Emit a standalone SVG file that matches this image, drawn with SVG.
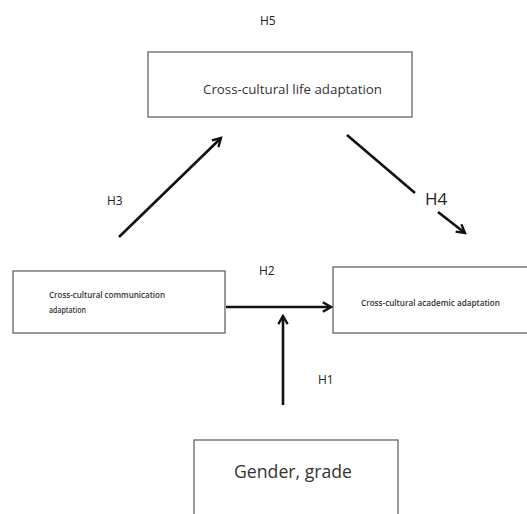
<svg xmlns="http://www.w3.org/2000/svg" width="527" height="514" viewBox="0 0 527 514">
<style>
.box{fill:#fff;stroke:#666;stroke-width:1.3}
.lbl{font-family:"Open Sans","Liberation Sans",sans-serif;fill:#333}
.h{font-family:"Open Sans","Liberation Sans",sans-serif;fill:#222;font-size:12px}
.big{font-size:17px}
.c{stroke:#111;stroke-width:2.6;fill:none;marker-end:url(#a)}
</style>
<defs>
<marker id="a" viewBox="0 0 10 10" refX="8" refY="5" markerWidth="4.5" markerHeight="4.5" orient="auto" markerUnits="strokeWidth">
<polyline points="1,1 8,5 1,9" fill="none" stroke="#111" stroke-width="2"/>
</marker>
</defs>
<rect width="527" height="514" fill="#fff"/>
<g id="life">
<rect class="box" x="148" y="52" width="264" height="65"/>
<text class="lbl" x="203" y="94" font-size="12.5" textLength="179" lengthAdjust="spacingAndGlyphs">Cross-cultural life adaptation</text>
</g>
<g id="comm">
<rect class="box" x="13" y="271" width="212" height="62"/>
<text class="lbl" x="49" y="298" font-size="8" font-weight="600" textLength="116" lengthAdjust="spacingAndGlyphs">Cross-cultural communication</text>
<text class="lbl" x="49" y="313" font-size="8" font-weight="600" textLength="37" lengthAdjust="spacingAndGlyphs">adaptation</text>
</g>
<g id="academic">
<rect class="box" x="333" y="267" width="200" height="66"/>
<text class="lbl" x="361" y="306" font-size="8" font-weight="600" textLength="139" lengthAdjust="spacingAndGlyphs">Cross-cultural academic adaptation</text>
</g>
<g id="gender">
<rect class="box" x="194" y="440" width="204" height="80"/>
<text class="lbl" x="234" y="478" font-size="19" textLength="118" lengthAdjust="spacingAndGlyphs">Gender, grade</text>
</g>
<g id="connectors">
<line class="c" x1="119" y1="237" x2="221" y2="138"/>
<line x1="347" y1="135" x2="415" y2="193" stroke="#111" stroke-width="2.6"/>
<line class="c" x1="438" y1="212" x2="465" y2="233"/>
<line class="c" x1="226" y1="307" x2="331" y2="307" stroke-width="3"/>
<line class="c" x1="283" y1="405" x2="283" y2="316"/>
</g>
<g id="labels">
<text class="h" x="260" y="25">H5</text>
<text class="h" x="107" y="205">H3</text>
<text class="h big" x="425" y="205">H4</text>
<text class="h" x="259" y="275">H2</text>
<text class="h" x="318" y="384">H1</text>
</g>
</svg>
